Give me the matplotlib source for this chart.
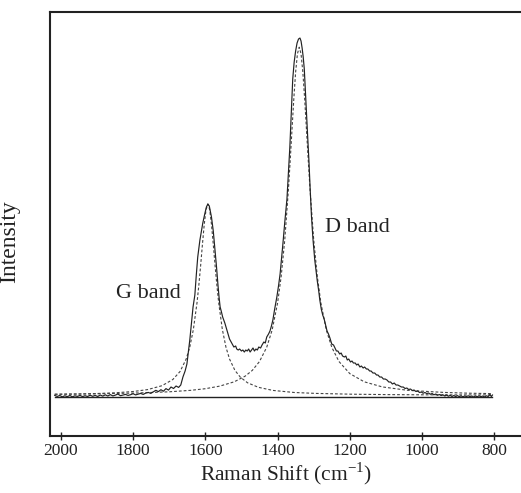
import matplotlib
matplotlib.use("Agg")
import matplotlib.pyplot as plt

plt.rcParams['font.family'] = ['Liberation Serif', 'DejaVu Serif']
plt.rcParams['mathtext.fontset'] = 'custom'
plt.rcParams['mathtext.rm'] = 'Liberation Serif'

# Measured spectrum (Raman shift in cm-1, intensity in arbitrary units)
spec_x = [2017, 2010, 2003, 1996, 1989, 1982, 1975, 1968, 1961, 1954, 1947, 1940, 1933, 1926,
          1919, 1912, 1905, 1898, 1891, 1884, 1877, 1870, 1863, 1856, 1849, 1842, 1835, 1828,
          1821, 1814, 1807, 1800, 1793, 1786, 1779, 1772, 1765, 1758, 1751, 1744, 1737, 1730,
          1723, 1716, 1709, 1702, 1695, 1688, 1681, 1674, 1668, 1662, 1656, 1651, 1647, 1643,
          1638, 1634, 1629, 1625, 1621, 1615, 1607, 1601, 1597, 1593, 1589, 1583, 1578, 1574,
          1569, 1565, 1562, 1559, 1556, 1552, 1546, 1542, 1538, 1533, 1527, 1521, 1516, 1513,
          1509, 1505, 1500, 1496, 1492, 1488, 1484, 1480, 1476, 1472, 1468, 1464, 1460, 1456,
          1452, 1447, 1443, 1438, 1434, 1430, 1425, 1421, 1417, 1413, 1408, 1402, 1397, 1393,
          1389, 1385, 1380, 1374, 1370, 1366, 1362, 1358, 1354, 1350, 1346, 1342, 1338, 1335,
          1332, 1329, 1326, 1323, 1320, 1317, 1313, 1310, 1306, 1302, 1297, 1293, 1290, 1286,
          1283, 1279, 1275, 1271, 1267, 1263, 1259, 1255, 1250, 1245, 1241, 1237, 1233, 1228,
          1224, 1220, 1215, 1211, 1207, 1203, 1198, 1194, 1190, 1185, 1181, 1177, 1172, 1168,
          1163, 1159, 1154, 1150, 1145, 1141, 1136, 1131, 1126, 1122, 1117, 1112, 1107, 1102,
          1097, 1092, 1087, 1082, 1077, 1072, 1067, 1062, 1057, 1052, 1047, 1042, 1037, 1032,
          1027, 1022, 1017, 1012, 1007, 1002, 997, 992, 987, 982, 977, 972, 967, 962, 957, 952,
          947, 942, 937, 932, 927, 922, 917, 912, 907, 902, 897, 892, 887, 882, 877, 872, 867,
          862, 857, 852, 847, 842, 837, 832, 827, 822, 817, 812, 808, 805]
spec_y = [1.6, 0.6, 1.5, 0.2, 1.2, 0.4, 1.5, 0.2, 1.2, 0.6, 1.6, 0.4, 1.3, 0.5,
          1.8, 0.7, 1.6, 0.5, 2.0, 0.9, 2.2, 1.0, 2.4, 1.1, 1.9, 3.0, 1.3, 2.0,
          2.6, 1.6, 2.3, 3.3, 2.1, 2.9, 3.6, 2.6, 3.9, 4.6, 3.6, 5.2, 6.7, 5.4,
          7.3, 5.8, 8.4, 6.9, 10.0, 8.5, 11.0, 9.6, 12.0, 20, 26, 33, 45, 57,
          75, 90, 102, 122, 140, 157, 174, 184, 190, 193, 191, 180, 166, 150,
          130, 112, 100, 90, 86, 80, 74, 69, 64, 58, 54, 50, 51, 48,
          47, 48, 46, 47, 45, 47, 46, 48, 45, 47, 49, 46, 48, 47,
          50, 49, 52, 55, 54, 60, 63, 66, 71, 77, 88, 100, 112, 123,
          138, 154, 175, 198, 225, 250, 285, 318, 335, 346, 354, 358, 359, 356,
          349, 340, 328, 306, 285, 263, 235, 210, 180, 158, 137, 125, 116, 106,
          97, 88, 82, 78, 72, 66, 63, 59, 53, 52, 49, 46, 46, 43,
          44, 41, 40, 41, 37, 38, 35, 36, 34, 34, 32, 33, 30, 31,
          29, 30, 28, 28, 26, 26, 24, 24, 22, 22, 20, 20, 18, 18,
          17, 15, 15, 13, 14, 12, 12, 11, 10, 10, 8.5, 9, 7.5, 8,
          6.5, 7, 5.5, 6, 4.5, 5, 3.8, 4.5, 3.5, 4, 2.8, 3.5, 2.2, 3, 1.8, 2.5,
          1.5, 2.2, 1.0, 2.0, 0.8, 1.6, 0.5, 1.5, 0.4, 1.4, 0.3, 1.2, 0.2, 1.0, 0.5, 1.2, 0.2,
          1.0, 0.0, 1.0, 0.3, 1.2, 0.2, 1.0, 0.0, 1.2, 0.5, 2.5, 0.5, 2.0]

# Fitted G band (dashed)
g_fit_x = [2017, 1950, 1900, 1850, 1800, 1760, 1720, 1690, 1670, 1653, 1643, 1633, 1623, 1618,
           1613, 1608, 1603, 1598, 1593, 1588, 1583, 1578, 1573, 1568, 1563, 1553, 1543, 1533,
           1518, 1503, 1483, 1453, 1413, 1353, 1293, 1193, 1093, 993, 893, 807]
g_fit_y = [2.7, 3.0, 3.5, 4.2, 5.5, 7.4, 11.3, 17.5, 25.5, 38.0, 50.0, 67.8, 94.3, 111.6,
           131.4, 152.7, 172.7, 187.5, 193.0, 187.5, 172.7, 152.7, 131.4, 111.6, 94.3, 67.8, 50.0, 38.0,
           26.6, 19.8, 14.2, 9.7, 6.6, 4.5, 3.6, 2.8, 2.4, 2.2, 2.1, 2.1]

# Fitted D band (dashed)
d_fit_x = [2017, 1900, 1800, 1700, 1640, 1600, 1560, 1520, 1490, 1470, 1450, 1430, 1415, 1400,
           1390, 1380, 1370, 1365, 1360, 1355, 1350, 1345, 1340, 1335, 1330, 1325, 1320, 1315,
           1310, 1300, 1290, 1280, 1265, 1250, 1230, 1200, 1160, 1110, 1040, 940, 870, 807]
d_fit_y = [2.8, 3.2, 3.9, 5.2, 6.7, 8.3, 10.9, 15.2, 20.8, 26.6, 35.5, 49.8, 67.0, 93.9,
           120.6, 157.5, 207.2, 236.6, 267.7, 298.3, 324.9, 343.2, 349.8, 343.2, 324.9, 298.3, 267.7, 236.6,
           207.2, 157.5, 120.6, 93.9, 67.0, 49.8, 35.5, 23.4, 15.2, 10.1, 6.7, 4.6, 3.8, 3.4]

# Baseline
base_x = [2017, 807]
base_y = [0, 0]

x_ticks = [2000, 1800, 1600, 1400, 1200, 1000, 800]
labels = ["G band", "D band"]
label_pos = [(1847, 104), (1269, 170)]

W, H = 521, 493
fig = plt.figure(figsize=(W / 100, H / 100), dpi=100)
ax = fig.add_axes([0.096, 0.1156, 0.904, 0.860])

ink = '#222222'
ax.plot(base_x, base_y, color=ink, lw=1.0)
ax.plot(g_fit_x, g_fit_y, color='#444444', lw=0.8, ls=(0, (2.5, 1.8)))
ax.plot(d_fit_x, d_fit_y, color='#444444', lw=0.8, ls=(0, (2.5, 1.8)))
ax.plot(spec_x, spec_y, color=ink, lw=0.85)

ax.set_xlim(2030, 726)
ax.set_ylim(-39, 385)
ax.set_xticks(x_ticks)
ax.set_xticklabels([str(t) for t in x_ticks], fontsize=12.5, color=ink)
ax.set_yticks([])
ax.tick_params(axis='x', direction='inout', length=6, width=1.0, color=ink, pad=2)

for s in ['left', 'top', 'bottom']:
    ax.spines[s].set_color(ink)
    ax.spines[s].set_linewidth(1.5)
ax.spines['right'].set_visible(False)

ax.set_xlabel('Raman Shift (cm$^{\\mathregular{-1}}$)', fontsize=15.5, color=ink, labelpad=1)
fig.text(10 / W, 1 - 242 / H, 'Intensity', fontsize=17, color=ink, rotation=90,
         ha='center', va='center')

for txt, (x, y) in zip(labels, label_pos):
    ax.text(x, y, txt, fontsize=16, color=ink, ha='left', va='center')

fig.savefig('out.png', dpi=100)
